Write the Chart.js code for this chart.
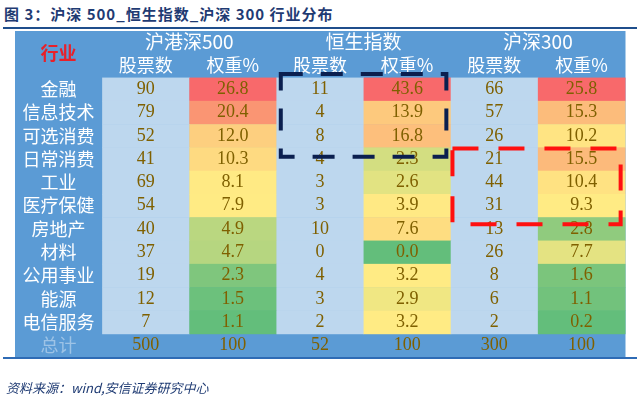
<!DOCTYPE html>
<html><head><meta charset="utf-8">
<script src="https://cdn.jsdelivr.net/npm/chart.js@4"></script>
<style>
body{margin:0;background:#fff;width:640px;height:405px;position:relative;overflow:hidden;font-family:"Noto Sans CJK SC",sans-serif}
#title{position:absolute;left:4px;top:3px;font-size:15px;font-weight:bold;color:#1f3b73;letter-spacing:1px}
#tline{position:absolute;left:3px;top:27px;width:634px;height:2px;background:#1f4e8c}
#bline{position:absolute;left:3px;top:357px;width:634px;height:2px;background:#2e6bb5}
#src{position:absolute;left:6px;top:378px;font-size:13px;font-style:italic;color:#1f3b73}
canvas{position:absolute;left:0;top:0}
</style></head><body>
<div id="title">图 3：沪深 500_恒生指数_沪深 300 行业分布</div>
<div id="tline"></div>
<canvas id="c" width="640" height="405"></canvas>
<div id="bline"></div>
<div id="src">资料来源：wind,安信证券研究中心</div>
<script>
// 数据
const industries = ['金融','信息技术','可选消费','日常消费','工业','医疗保健','房地产','材料','公用事业','能源','电信服务'];
const groups = ['沪港深500','恒生指数','沪深300'];
const subHeaders = ['股票数','权重%'];
const hgs500Count = [90,79,52,41,69,54,40,37,19,12,7];
const hgs500Weight = [26.8,20.4,12.0,10.3,8.1,7.9,4.9,4.7,2.3,1.5,1.1];
const hsiCount = [11,4,8,4,3,3,10,0,4,3,2];
const hsiWeight = [43.6,13.9,16.8,2.3,2.6,3.9,7.6,0.0,3.2,2.9,3.2];
const hs300Count = [66,57,26,21,44,31,13,26,8,6,2];
const hs300Weight = [25.8,15.3,10.2,15.5,10.4,9.3,2.8,7.7,1.6,1.1,0.2];
const totals = [500,100,52,100,300,100];

const columns = [
    {vals: hgs500Count, heat: false}, {vals: hgs500Weight, heat: true},
    {vals: hsiCount, heat: false}, {vals: hsiWeight, heat: true},
    {vals: hs300Count, heat: false}, {vals: hs300Weight, heat: true}
];

// 三色色阶 (绿-黄-红)
function mix(a, b, t) {
    return a.map((v, i) => Math.round(v + (b[i] - v) * t));
}
function heatColor(v, arr) {
    const s = [...arr].sort((a, b) => a - b);
    const min = s[0], max = s[s.length - 1], mid = s[Math.floor(s.length / 2)];
    const G = [99,190,123], Y = [255,235,132], R = [248,105,107];
    let c;
    if (v <= mid) c = mix(G, Y, mid === min ? 1 : (v - min) / (mid - min));
    else c = mix(Y, R, (v - mid) / (max - mid));
    return `rgb(${c.join(',')})`;
}

const tablePlugin = {
    id: 'table',
    beforeDatasetsDraw(chart) {
        const ctx = chart.ctx, x = chart.scales.x, y = chart.scales.y;
        const X = v => x.getPixelForValue(v), Y = v => y.getPixelForValue(v);
        const rect = (c0, r0, c1, r1, col) => {
            ctx.fillStyle = col;
            ctx.fillRect(X(c0), Y(r0), X(c1) - X(c0) + 0.5, Y(r1) - Y(r0) + 0.5);
        };
        const text = (s, cx, cy, font, col) => {
            ctx.font = font; ctx.fillStyle = col;
            ctx.textAlign = 'center'; ctx.textBaseline = 'middle';
            ctx.fillText(s, X(cx), Y(cy));
        };
        // 背景
        rect(0, 0, 7, 14, '#5b9bd5');
        const cjk = '"Noto Sans CJK SC"';
        const num = '18px "Liberation Serif"';
        const brown = '#7f6000';
        text('行业', 0.5, 0.95, `bold 18px ${cjk}`, '#e8202a');
        groups.forEach((g, i) => text(g, 1.5 + 2 * i + 0.5, 0.45, `19px ${cjk}`, '#fff'));
        for (let i = 0; i < 6; i++) text(subHeaders[i % 2], 1.5 + i, 1.45, `18px ${cjk}`, '#fff');
        industries.forEach((name, r) => {
            text(name, 0.5, 2.5 + r, `18px ${cjk}`, '#fff');
            columns.forEach((col, c) => {
                const v = col.vals[r];
                rect(1 + c, 2 + r, 2 + c, 3 + r, col.heat ? heatColor(v, col.vals) : '#bdd7ee');
                text(col.heat ? v.toFixed(1) : String(v), 1.5 + c, 2.5 + r, num, brown);
            });
        });
        text('总计', 0.5, 13.5, `18px ${cjk}`, '#9dc3e6');
        totals.forEach((t, c) => text(String(t), 1.5 + c, 13.5, num, brown));
        // 标注虚线框
        ctx.save();
        ctx.lineWidth = 4;
        ctx.setLineDash([22, 18]);
        ctx.strokeStyle = '#0b1f4f';
        ctx.strokeRect(X(3.05), Y(1.85), X(4.95) - X(3.05), Y(5.4) - Y(1.85));
        ctx.strokeStyle = '#ff1010';
        ctx.setLineDash([26, 20]);
        ctx.strokeRect(X(5.02), Y(5.05), X(6.95) - X(5.02), Y(8.3) - Y(5.05));
        ctx.restore();
    }
};

new Chart(document.getElementById('c'), {
    type: 'scatter',
    data: { datasets: [{ data: [] }] },
    options: {
        responsive: false,
        animation: false,
        layout: { padding: { left: 15, right: 15, top: 31, bottom: 48 } },
        plugins: { legend: { display: false }, tooltip: { enabled: false } },
        scales: {
            x: { type: 'linear', min: 0, max: 7, display: false },
            y: { type: 'linear', min: 0, max: 14, reverse: true, display: false }
        }
    },
    plugins: [tablePlugin]
});
</script>
</body></html>
